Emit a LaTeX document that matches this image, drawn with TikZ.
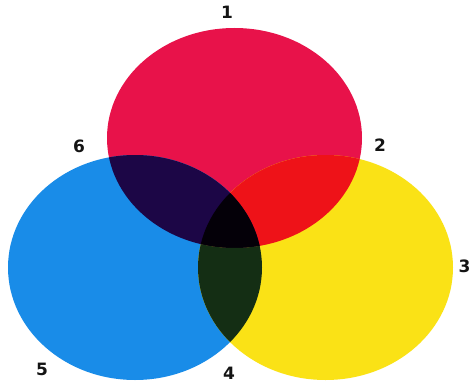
\documentclass[tikz,border=0pt]{standalone}
\usepackage{fontspec}
\setmainfont{DejaVu Sans}
\definecolor{cred}{RGB}{232,18,74}
\definecolor{cblue}{RGB}{25,140,232}
\definecolor{cyellow}{RGB}{250,226,22}
\definecolor{credyel}{RGB}{238,18,24}
\definecolor{credblue}{RGB}{28,6,70}
\definecolor{cbluyel}{RGB}{20,46,20}
\definecolor{call}{RGB}{4,0,8}
\tikzset{lbl/.style={font=\bfseries\fontsize{17}{17}\selectfont, inner sep=0pt, text=black!92}}
\begin{document}
\begin{tikzpicture}[x=1pt,y=-1pt]
\useasboundingbox (0,0) rectangle (471,385);
\fill[white] (0,0) rectangle (471,385);
\def\redE{(234.5,138) ellipse [x radius=127.5, y radius=110]}
\def\blueE{(135,267.5) ellipse [x radius=127, y radius=112.5]}
\def\yelE{(325.5,267.5) ellipse [x radius=127.5, y radius=112.5]}
\fill[cred] \redE;
\fill[cblue] \blueE;
\fill[cyellow] \yelE;
\begin{scope}
\clip \redE;
\fill[credyel] \yelE;
\fill[credblue] \blueE;
\clip \blueE;
\fill[call] \yelE;
\end{scope}
\begin{scope}
\clip \blueE;
\clip \yelE;
\begin{scope}[even odd rule]
\clip \redE (0,0) rectangle (471,385);
\fill[cbluyel] \yelE;
\end{scope}
\end{scope}
\node[lbl] (n1) at (227,12) {1};
\node[lbl] (n2) at (380,145.5) {2};
\node[lbl] (n3) at (464.5,266) {3};
\node[lbl] (n4) at (229,373) {4};
\node[lbl] (n5) at (42,369) {5};
\node[lbl] (n6) at (79,146) {6};
\end{tikzpicture}
\end{document}
